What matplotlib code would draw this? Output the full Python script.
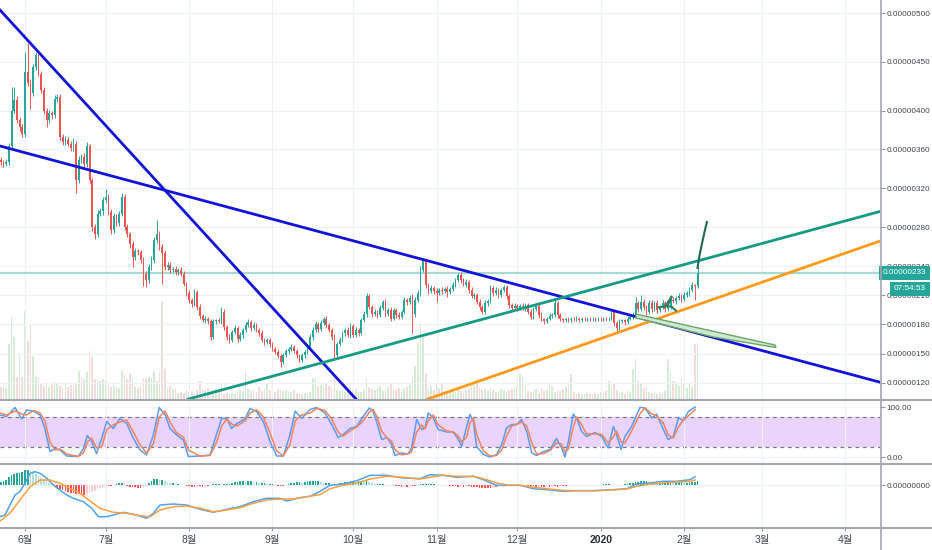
import matplotlib
matplotlib.use('Agg')
import matplotlib.pyplot as plt
import matplotlib.transforms as mtransforms
from matplotlib.lines import Line2D
from matplotlib.patches import Polygon
import numpy as np

# daily candles, day 0 = 2019-06-01, prices in satoshi (x 1e-8)
first_day = -9
first_open = 349
closes = [
    347, 345, 347, 363, 400, 411, 390, 383, 376, 440,
    428, 418, 445, 457, 438, 421, 400, 390, 397, 395,
    412, 414, 373, 368, 370, 366, 361, 366, 328, 349,
    352, 345, 363, 328, 280, 273, 294, 297, 308, 311,
    296, 277, 291, 284, 294, 311, 280, 273, 263, 249,
    255, 254, 246, 232, 226, 239, 246, 267, 273, 260,
    253, 239, 241, 236, 237, 234, 236, 232, 222, 212,
    205, 201, 213, 198, 189, 184, 186, 183, 167, 183,
    184, 183, 193, 177, 167, 164, 172, 176, 165, 169,
    174, 179, 182, 176, 179, 174, 171, 164, 162, 164,
    160, 155, 152, 147, 141, 148, 153, 155, 157, 153,
    148, 143, 148, 152, 157, 167, 174, 180, 175, 181,
    186, 179, 174, 167, 148, 160, 164, 171, 174, 169,
    178, 169, 174, 171, 184, 191, 209, 198, 191, 193,
    190, 197, 203, 191, 195, 186, 195, 190, 188, 193,
    205, 203, 207, 191, 205, 212, 236, 245, 221, 214,
    217, 214, 212, 215, 214, 216, 213, 216, 221, 226,
    231, 226, 221, 224, 215, 209, 210, 203, 198, 193,
    202, 204, 217, 212, 215, 210, 215, 218, 209, 200,
    197, 199, 197, 199, 197, 200, 193, 188, 196, 199,
    190, 185, 183, 186, 189, 190, 202, 190, 185, 184,
    186, 184, 186, 185, 186, 184, 186, 185, 186, 185,
    186, 185, 186, 185, 186, 185, 186, 193, 181, 176,
    183, 184, 182, 186, 188, 190, 202, 196, 203, 198,
    193, 202, 196, 202, 195, 198, 202, 196, 198, 205,
    204, 207, 209, 206, 210, 212, 215, 220, 219, 233,
]
wick_up = [
    3, 2, 3, 4, 24, 13, 4, 3, 3, 20,
    29, 4, 3, 3, 4, 3, 3, 3, 4, 3,
    4, 3, 3, 3, 4, 3, 3, 6, 3, 4,
    3, 4, 5, 3, 3, 3, 4, 3, 3, 8,
    3, 3, 4, 3, 3, 4, 3, 3, 2, 3,
    4, 3, 3, 3, 3, 3, 4, 3, 14, 3,
    3, 3, 3, 3, 2, 3, 2, 3, 3, 2,
    3, 2, 3, 2, 3, 2, 3, 2, 3, 3,
    2, 3, 5, 3, 2, 3, 2, 3, 2, 3,
    2, 3, 3, 2, 3, 2, 2, 3, 2, 2,
    2, 2, 2, 3, 2, 3, 2, 2, 3, 2,
    2, 2, 3, 2, 3, 3, 3, 3, 2, 3,
    2, 3, 2, 2, 3, 2, 3, 2, 2, 3,
    3, 2, 3, 2, 3, 3, 3, 2, 2, 3,
    2, 3, 2, 3, 2, 3, 2, 2, 3, 2,
    3, 2, 3, 4, 3, 3, 4, 3, 3, 2,
    3, 2, 3, 2, 3, 2, 3, 2, 3, 2,
    2, 3, 2, 3, 2, 3, 2, 2, 3, 2,
    3, 2, 3, 2, 3, 2, 2, 3, 2, 2,
    2, 3, 2, 2, 3, 2, 2, 3, 2, 2,
    2, 3, 2, 2, 3, 2, 3, 2, 2, 2,
    2, 2, 2, 2, 3, 2, 2, 2, 2, 2,
    2, 2, 2, 2, 2, 2, 2, 3, 2, 2,
    3, 2, 2, 3, 2, 3, 6, 2, 7, 3,
    2, 3, 3, 2, 3, 2, 3, 2, 3, 5,
    3, 2, 3, 2, 3, 2, 3, 4, 2, 7,
]
wick_dn = [
    3, 3, 2, 3, 3, 3, 3, 4, 3, 3,
    3, 16, 3, 3, 3, 3, 4, 7, 3, 4,
    3, 3, 3, 3, 3, 3, 3, 3, 13, 3,
    3, 4, 3, 3, 4, 5, 3, 3, 4, 3,
    3, 4, 3, 3, 3, 3, 3, 3, 4, 10,
    3, 3, 3, 13, 8, 3, 3, 3, 3, 3,
    31, 3, 3, 3, 2, 3, 3, 2, 3, 3,
    3, 3, 2, 3, 3, 2, 3, 3, 3, 2,
    3, 2, 3, 3, 3, 3, 2, 2, 3, 2,
    3, 2, 2, 3, 2, 2, 3, 2, 3, 2,
    3, 2, 3, 2, 5, 2, 2, 3, 2, 2,
    3, 2, 2, 3, 2, 2, 3, 2, 3, 2,
    2, 3, 2, 3, 3, 3, 2, 2, 3, 2,
    3, 2, 2, 3, 2, 2, 3, 2, 3, 2,
    3, 2, 2, 3, 2, 3, 2, 3, 3, 2,
    2, 3, 2, 20, 3, 2, 3, 2, 4, 3,
    2, 3, 9, 2, 3, 2, 5, 2, 2, 3,
    2, 3, 2, 3, 3, 2, 3, 2, 3, 2,
    2, 3, 2, 3, 2, 3, 2, 2, 3, 3,
    2, 2, 3, 2, 2, 3, 2, 3, 2, 2,
    3, 2, 3, 2, 2, 2, 2, 3, 2, 2,
    2, 2, 2, 2, 2, 2, 2, 2, 2, 2,
    2, 2, 2, 2, 2, 2, 2, 2, 3, 3,
    2, 2, 3, 2, 2, 2, 2, 3, 2, 3,
    3, 2, 3, 2, 3, 2, 2, 3, 2, 2,
    2, 3, 2, 3, 2, 2, 3, 2, 14, 2,
]
volume = [
    12, 13, 11, 55, 82, 62, 22, 45, 22, 88,
    58, 75, 43, 23, 22, 15, 13, 17, 12, 14,
    18, 16, 13, 12, 15, 12, 14, 13, 15, 28,
    22, 20, 27, 48, 42, 20, 19, 18, 20, 19,
    17, 12, 13, 12, 11, 28, 24, 20, 25, 21,
    12, 11, 13, 21, 20, 22, 21, 28, 18, 27,
    97, 30, 12, 13, 10, 11, 6, 7, 6, 8,
    7, 8, 6, 9, 18, 10, 9, 11, 10, 9,
    10, 8, 17, 5, 6, 5, 6, 5, 7, 9,
    8, 28, 10, 8, 9, 7, 12, 8, 10, 15,
    9, 8, 7, 10, 9, 8, 9, 8, 7, 9,
    6, 5, 4, 6, 5, 7, 21, 20, 13, 14,
    12, 15, 13, 12, 20, 9, 8, 10, 7, 8,
    11, 9, 10, 8, 7, 9, 20, 12, 10, 9,
    11, 13, 8, 9, 12, 16, 10, 9, 11, 7,
    10, 12, 14, 22, 33, 56, 75, 61, 25, 10,
    13, 9, 15, 11, 15, 8, 6, 9, 10, 7,
    11, 8, 6, 9, 10, 16, 14, 16, 11, 9,
    10, 8, 11, 9, 7, 8, 10, 9, 8, 9,
    10, 11, 13, 25, 22, 12, 8, 7, 9, 10,
    6, 11, 8, 9, 14, 12, 7, 9, 8, 10,
    12, 14, 25, 7, 5, 6, 4, 5, 6, 5,
    4, 6, 5, 7, 6, 8, 18, 12, 16, 9,
    6, 7, 5, 8, 7, 30, 40, 18, 15, 11,
    13, 7, 6, 8, 5, 6, 7, 8, 40, 28,
    18, 17, 13, 20, 15, 11, 16, 12, 55, 55,
]
macd_hist = [
    3, 4, 5, 8, 10, 11, 12, 12, 13, 15,
    15, 14, 13, 11, 9, 7, 6, 4, 2, 1,
    -1, -3, -4, -5, -6, -7, -8, -8, -9, -9,
    -10, -10, -9, -8, -7, -6, -4, -3, -2, -1,
    -1, -1, 0, 1, 2, 2, 1, -1, -2, -2,
    -2, -3, -3, -2, -1, 2, 4, 6, 6, 5,
    5, 4, 3, 2, 2, 1, 1, 0, 0, -1,
    -1, -2, -2, -1, -1, -2, -1, -1, 0, 1,
    1, 1, 0, 1, 1, 1, 2, 3, 3, 4,
    4, 3, 4, 4, 3, 3, 2, 2, 2, 1,
    1, 1, 0, -1, -1, -1, 0, 1, 2, 2,
    3, 3, 2, 3, 4, 4, 4, 4, 4, 3,
    2, 2, 2, 1, 1, 1, 2, 2, 3, 3,
    4, 4, 3, 4, 4, 3, 4, 3, 2, 1,
    1, 1, 1, 0, 0, 0, 0, -1, -1, -2,
    -1, -2, -1, -1, -1, 0, 1, 1, 1, 1,
    1, 1, 0, 0, 0, 0, 0, -1, -1, -1,
    -2, -1, -2, -1, -1, -2, -2, -2, -3, -3,
    -3, -3, -3, -2, -2, -1, -1, 0, 0, 0,
    0, 0, 0, 0, 0, 0, -1, -1, -1, -2,
    -1, -2, -2, -1, -2, -1, -1, -2, -1, -1,
    -1, 0, 0, 0, 0, 0, 0, 0, 0, 0,
    0, 0, 0, 0, 1, 1, 1, 0, 0, 0,
    0, 0, 1, 1, 2, 2, 3, 3, 4, 4,
    4, 3, 3, 3, 2, 2, 2, 2, 3, 3,
    2, 3, 3, 3, 2, 2, 3, 3, 3, 4,
]

# stoch RSI
stoch_days = [-9.3, -6.8, -3.7, -1.2, 0.6, 3.1, 5.6, 7.4, 9.3, 11.2,
              13, 15.5, 19.8, 21.7, 23.2, 24.8, 26.6, 28.5, 30.4, 32.8,
              35.3, 37.8, 40.3, 42.8, 45.2, 47.7, 49.9, 52.1, 53.9, 56.4,
              58.9, 60.7, 65, 68.8, 71.3, 73.1, 75, 76.8, 78.7, 81.8,
              83.6, 86.1, 88.6, 91.1, 93.6, 96, 98.5, 100.4, 102.8, 106,
              108.4, 111.5, 114, 116.4, 118.3, 120.8, 123.3, 125.7, 128, 129.4,
              130.7, 132.6, 134.6, 136.3, 137.5, 140, 142.4, 143.7, 145.6, 147.5,
              148.7, 149.9, 151.8, 153.6, 156.8, 159.2, 161.1, 162.3, 164.2, 165.4,
              166.7, 167.9, 170.4, 172.9, 175.3, 177.2, 179, 180.9, 182.8, 184.6,
              186.5, 188.4, 190.2, 192.7, 195.2, 197.6, 199.5, 200.7, 202, 203.8,
              205.1, 206.9, 208.8, 211.9, 214.4, 216.8, 218.7, 219.9, 221.6, 223,
              225.5, 228.6, 230.5, 233, 234.8, 237.3, 239.1, 241, 242.9, 244.8,
              246.6, 249.1]
stoch_k = [84, 81, 99, 76, 94, 92, 84, 57, 11, 17,
           14, 2, 1, 17, 43, 31, 7, 37, 71, 57,
           77, 67, 37, 14, 4, 44, 99, 84, 57, 44,
           34, 1, 2, 4, 47, 77, 77, 57, 67, 76,
           97, 91, 71, 31, 2, 2, 44, 92, 77, 95,
           99, 88, 65, 39, 45, 57, 61, 81, 98, 91,
           71, 35, 39, 25, 3, 8, 6, 18, 75, 55,
           58, 88, 78, 55, 50, 50, 35, 21, 61, 85,
           71, 21, 5, 0, 5, 25, 58, 65, 65, 75,
           51, 8, 3, 11, 15, 37, 18, 0, 31, 86,
           77, 51, 41, 49, 41, 18, 61, 45, 15, 41,
           61, 99, 98, 78, 86, 55, 35, 41, 78, 73,
           91, 100]
stoch_d = [88, 84, 92, 86, 84, 93, 88, 72, 30, 14,
           16, 6, 1, 8, 30, 38, 18, 20, 55, 64,
           70, 74, 50, 24, 8, 26, 80, 92, 70, 48,
           40, 14, 2, 3, 30, 62, 76, 66, 62, 72,
           88, 94, 80, 48, 12, 2, 25, 72, 84, 88,
           97, 93, 76, 50, 42, 52, 60, 72, 90, 95,
           82, 52, 38, 32, 15, 4, 7, 10, 50, 64,
           56, 72, 84, 64, 52, 50, 42, 30, 40, 68,
           78, 45, 12, 2, 3, 14, 42, 62, 65, 70,
           62, 28, 6, 7, 13, 28, 26, 10, 16, 60,
           80, 64, 46, 46, 45, 28, 40, 52, 30, 28,
           52, 86, 98, 86, 82, 68, 44, 38, 60, 74,
           82, 95]

# MACD lines
macd_days = [-9.3, -7.4, -5.6, -3.7, -1.9, 0, 1.9, 3.7, 5.6, 8.1,
             10.5, 13, 15.5, 18, 21.7, 24.8, 27.3, 30.4, 32.8, 36.5,
             40.3, 45.2, 47.7, 50.2, 55.1, 60.1, 65.1, 70, 75, 79.9,
             84.9, 89.8, 94.8, 97.3, 102.2, 106, 109.7, 113.4, 118.3, 123.3,
             128.3, 134.5, 140.6, 146.8, 150.6, 155.5, 160.5, 166.7, 170.4, 175.3,
             180.3, 184, 189, 193.9, 200.1, 205.1, 211.3, 217.5, 223.7, 227.4,
             232.3, 237.3, 242.3, 247.2, 249.1]
macd_line = [-31.7, -30, -20, -10, -6.7, 1.7, 11.7, 13.3, 11.7, 6.7,
             0, -5, -10, -13.3, -16.7, -23.3, -31.7, -31.7, -30, -27.3,
             -29.3, -33.3, -28.3, -20, -19, -20, -24.3, -27.3, -24.3, -21.7,
             -16.7, -13.3, -13.3, -16, -12.7, -11.3, -6.3, -0.3, 1, 4.3,
             9.7, 9.7, 7, 6.3, 10.3, 9.7, 7.7, 8.7, 5.3, -0.3,
             -0.3, -0.3, -3.7, -4.7, -6.3, -5.7, -5.7, -5, -3.7, 1,
             2, 3.7, 3.7, 5.3, 8.3]
signal_days = [-9.3, -5.6, -1.9, 1.9, 5.6, 9.3, 13, 16.7, 20.4, 24.2,
               27.9, 32.8, 37.8, 42.8, 46.5, 50.2, 55.1, 60.1, 65.1, 70,
               75, 79.9, 84.9, 89.8, 94.8, 99.7, 104.7, 109.7, 113.4, 118.3,
               123.3, 128.3, 134.5, 140.6, 146.8, 150.6, 155.5, 160.5, 166.7, 170.4,
               175.3, 180.3, 184, 189, 193.9, 200.1, 205.1, 211.3, 217.5, 223.7,
               227.4, 232.3, 237.3, 242.3, 247.2, 249.1]
signal_line = [-36, -28.3, -15, -1.7, 5, 5, 1.7, -3.3, -8.3, -16,
               -23.3, -27.3, -28.3, -30.7, -31.7, -25, -21.7, -21, -23.3, -26.7,
               -25, -22.7, -18.3, -15, -14, -14, -11.7, -9.7, -3.7, -0.3,
               2, 6, 8.7, 7.7, 6, 7.7, 9.7, 8.7, 8.7, 6.3,
               2, -0.3, -0.3, -2.3, -3.7, -5.3, -5.7, -5.7, -5, -4,
               -1.3, 1, 2, 3, 3.7, 5]

month_days = [0, 30, 61, 92, 122, 153, 183, 214, 245, 274, 305]
month_labels = ['6월', '7월', '8월', '9월', '10월', '11월', '12월', '2020', '2월', '3월', '4월']
price_ticks = [120, 150, 180, 210, 240, 280, 320, 360, 400, 450, 500]
last_price = 233
countdown = '07:54:53'

# drawn trend lines, two (day, price) points each
line_steep = [(-9.29, 503.4), (122.7, 104.2)]
line_falling = [(-9.29, 363.5), (317.8, 120.5)]
line_teal = [(102.2, 134.3), (317.8, 296.1)]
line_orange = [(148.7, 102.2), (317.8, 265.7)]
# hand drawn marks
stroke_days = [250.0, 250.7, 251.7, 252.6, 253.5]
stroke_prices = [238, 250.3, 263.7, 275.0, 285.3]
squiggle_days = [235.4, 238.8, 240.4, 239.1, 238.3, 240.4, 242.0]
squiggle_prices = [197.5, 198.9, 208.4, 203.3, 198.9, 198.1, 194.0]
wedge = [(227.1, 190.6), (278.8, 158.7), (279.2, 156.2), (255.8, 167.0),
         (230.5, 184.5), (227.1, 186.5)]

UP = '#26a69a'
DOWN = '#ef5350'
GRID = '#eef1f6'
SEP = '#a3a6af'
TXT = '#434651'
LBL = 5.9

plt.rcParams['font.family'] = ['Liberation Sans', 'Noto Sans CJK KR', 'DejaVu Sans']

W, H = 932, 550
fig = plt.figure(figsize=(W / 100, H / 100), dpi=100)


def rect(x0, y0, x1, y1):
    return [x0 / W, 1 - y1 / H, (x1 - x0) / W, (y1 - y0) / H]


ax_vol = fig.add_axes(rect(0, 0, 880, 399))
ax = fig.add_axes(rect(0, 0, 880, 399), sharex=ax_vol)
ax_st = fig.add_axes(rect(0, 400, 880, 463), sharex=ax_vol)
ax_md = fig.add_axes(rect(0, 464, 880, 527), sharex=ax_vol)
ax.patch.set_visible(False)

for a in (ax_vol, ax, ax_st, ax_md):
    for s in a.spines.values():
        s.set_visible(False)

ax_vol.set_xlim(-9.29, 317.84)
ax_vol.set_xticks(month_days)

days = np.arange(first_day, first_day + len(closes))
closes = np.array(closes, dtype=float)
opens = np.concatenate([[first_open], closes[:-1]])
up = closes >= opens
body_lo = np.minimum(opens, closes)
body_hi = np.maximum(opens, closes)
highs = body_hi + np.array(wick_up)
lows = body_lo - np.array(wick_dn)
cols = np.where(up, UP, DOWN)

# volume underneath
vcols = [(0.40, 0.73, 0.42, 0.28) if u else (0.79, 0.42, 0.42, 0.24) for u in up]
ax_vol.bar(days, volume, width=0.62, color=vcols, linewidth=0)
ax_vol.set_ylim(0, 399)
ax_vol.set_yticks([])
ax_vol.tick_params(axis='x', length=0, labelbottom=False)

# main price pane
ax.set_ylim(103.2, 513.7)
ax.grid(True, color=GRID, lw=0.8, zorder=0)
ax.vlines(days, lows, highs, colors=cols, lw=0.7, zorder=3)
ax.bar(days, np.maximum(body_hi - body_lo, 0.8), bottom=body_lo, width=0.62,
       color=cols, linewidth=0, zorder=4)
ax.axhline(last_price, color='#a8d9d2', lw=1.6, zorder=2)
ax.axline(*line_steep, color='#1212d8', lw=2, zorder=5)
ax.axline(*line_falling, color='#1212d8', lw=2, zorder=5)
ax.axline(*line_teal, color='#159a83', lw=2, zorder=5)
ax.axline(*line_orange, color='#ff9a1e', lw=2, zorder=5)
ax.add_patch(Polygon(wedge, closed=True, fc='#cfe8cf', ec='#6aa56a', lw=1, zorder=6))
ax.plot(stroke_days, stroke_prices, color='#1e6b52', lw=1.5, zorder=7)
ax.plot(squiggle_days, squiggle_prices, color='#2e7d5b', lw=1.5, zorder=7)

ax.yaxis.tick_right()
ax.set_yticks(price_ticks)
ax.set_yticklabels([f'{p * 1e-8:.8f}' for p in price_ticks])
ax.tick_params(axis='y', direction='out', length=3.5, color='#9598a1',
               labelsize=LBL, labelcolor=TXT, pad=1)
ax.tick_params(axis='x', length=0, labelbottom=False)

blend = mtransforms.blended_transform_factory(ax.transAxes, ax.transData)
ax.text(1 + 3 / 880, last_price, f'{last_price * 1e-8:.8f}', transform=blend,
        ha='left', va='center', color='white', fontsize=LBL, clip_on=False, zorder=20,
        bbox=dict(boxstyle='square,pad=0.45', fc=UP, ec='none'))
ax.text(1 + 30 / 880, last_price - 16.5, countdown, transform=blend,
        ha='center', va='center', color='white', fontsize=LBL, clip_on=False, zorder=20,
        bbox=dict(boxstyle='square,pad=0.45', fc=UP, ec='none'))

# stoch RSI pane
ax_st.set_ylim(-12, 114)
ax_st.axhspan(20, 80, color='#ead3fd', lw=0, zorder=0)
ax_st.axhline(80, color='#787b86', ls=(0, (3, 3)), lw=0.9, zorder=1)
ax_st.axhline(20, color='#787b86', ls=(0, (3, 3)), lw=0.9, zorder=1)
ax_st.grid(True, color=GRID, lw=0.8, zorder=0)
ax_st.plot(stoch_days, stoch_k, color='#5b9cf6', lw=1.1, zorder=3)
ax_st.plot(stoch_days, stoch_d, color='#f4845f', lw=1.1, zorder=3)
ax_st.yaxis.tick_right()
ax_st.set_yticks([0, 100])
ax_st.set_yticklabels(['0.00', '100.00'])
ax_st.tick_params(axis='y', direction='out', length=3.5, color='#9598a1',
                  labelsize=LBL, labelcolor=TXT, pad=1)
ax_st.tick_params(axis='x', length=0, labelbottom=False)

# MACD pane
hist = np.array(macd_hist, dtype=float)
prev = np.concatenate([[hist[0]], hist[:-1]])
hcols = np.where(hist >= 0,
                 np.where(hist >= prev, '#26a69a', '#b2dfdb'),
                 np.where(hist <= prev, '#ff5252', '#ffcdd2'))
ax_md.set_ylim(-42, 21)
ax_md.grid(True, color=GRID, lw=0.8, zorder=0)
ax_md.bar(days, hist, width=0.62, color=hcols, linewidth=0, zorder=2)
ax_md.plot(macd_days, macd_line, color='#4fa3f0', lw=1.1, zorder=3)
ax_md.plot(signal_days, signal_line, color='#ff9f43', lw=1.1, zorder=3)
ax_md.yaxis.tick_right()
ax_md.set_yticks([0])
ax_md.set_yticklabels(['0.00000000'])
ax_md.tick_params(axis='y', direction='out', length=3.5, color='#9598a1',
                  labelsize=LBL, labelcolor=TXT, pad=1)
ax_md.set_xticks(month_days)
ax_md.set_xticklabels(month_labels)
ax_md.tick_params(axis='x', direction='out', length=3, color='#9598a1',
                  labelsize=7.5, labelcolor=TXT, pad=3)
for lbl in ax_md.get_xticklabels():
    if lbl.get_text() == '2020':
        lbl.set_fontweight('bold')
        lbl.set_color('#2a2e39')

# pane separators and price axis border
for yy in (399.5, 463.5, 527.5):
    fig.add_artist(Line2D([0, 1], [1 - yy / H] * 2, color=SEP, lw=1.5,
                          transform=fig.transFigure))
fig.add_artist(Line2D([880.5 / W] * 2, [0, 1], color=SEP, lw=1.2,
                      transform=fig.transFigure))

fig.savefig('out.png', dpi=100, facecolor='white')
